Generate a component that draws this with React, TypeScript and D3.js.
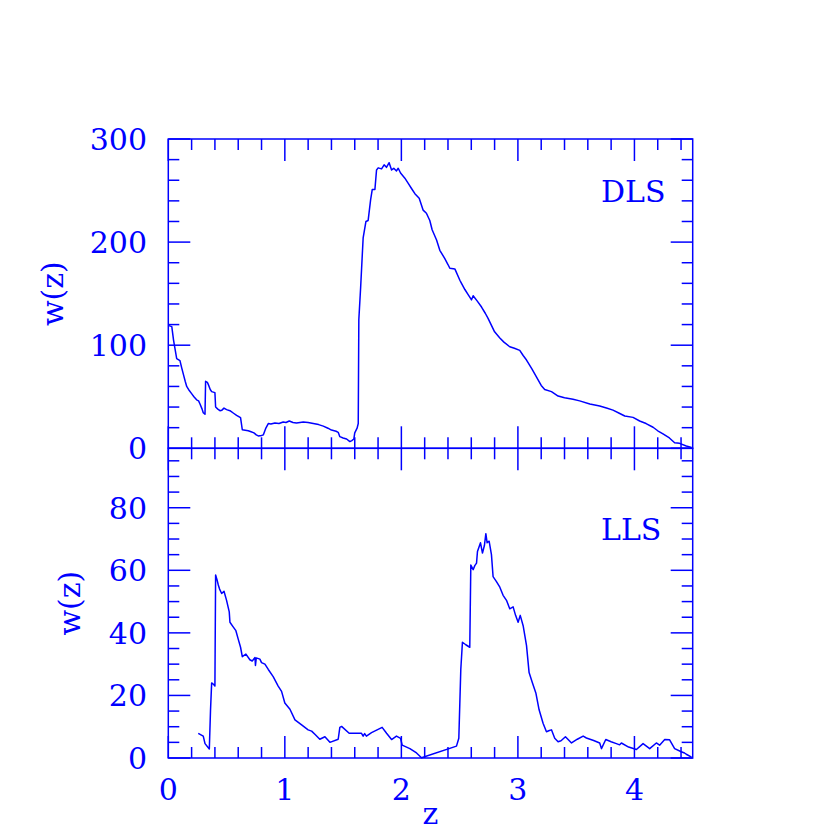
import React from 'react';
import * as d3 from 'd3';

const dlsZ = [0.005,0.03,0.045,0.057,0.072,0.1,0.115,0.129,0.145,0.158,0.18,0.2,0.22,0.243,0.26,0.272,0.29,0.30,0.315,0.32,0.335,0.343,0.36,0.372,0.4,0.406,0.425,0.443,0.46,0.478,0.5,0.529,0.56,0.586,0.62,0.635,0.66,0.686,0.71,0.735,0.755,0.772,0.8,0.815,0.835,0.858,0.88,0.915,0.95,0.986,1.01,1.038,1.07,1.1,1.13,1.158,1.2,1.244,1.29,1.33,1.37,1.4,1.44,1.458,1.472,1.5,1.53,1.558,1.575,1.592,1.6,1.62,1.63,1.635,1.65,1.672,1.696,1.715,1.736,1.75,1.773,1.787,1.801,1.83,1.852,1.872,1.895,1.916,1.935,1.958,1.973,1.993,2.03,2.059,2.087,2.116,2.153,2.187,2.215,2.244,2.264,2.302,2.33,2.373,2.401,2.416,2.459,2.502,2.516,2.545,2.573,2.602,2.616,2.65,2.688,2.72,2.744,2.8,2.845,2.88,2.93,2.97,3.016,3.045,3.074,3.12,3.16,3.2,3.23,3.288,3.345,3.4,3.473,3.53,3.617,3.66,3.702,3.76,3.816,3.87,3.917,3.988,4.045,4.1,4.16,4.2,4.245,4.3,4.345,4.387,4.445,4.49];
const dlsW = [119,118,105,97,87,85,78,72,65,60,56,53,50,47,46,43,38,34.5,33,65,64,62,57,55,54,40,38,36.5,37,39,37.5,36.5,34,32,29.7,18,17.5,17,16,15,13,12,12.5,13,19,24,23.5,24.5,24,25.5,25,26.5,25,24.5,25,25.5,25,24,23,21.5,19.5,17.7,16.5,15.5,11.3,10,9,6.5,7.5,9,15,19.5,24,125,155,204,220,221,241,251,251,270,272,271,275,272.5,277,270,271.6,269,271.6,267,262,257,252,247,242.5,231,228,221,212,202,192,184,178,174.6,174,163,160,154,149,144,148,143,137,131,126,113,107,103,98.5,97,95,90,85.6,77,69,61,57,55,50.7,49,47.5,46,43,42,41,39,37,34,31.3,30,26.5,24,20.4,17,14,10,5.4,4.8,2.2,0.8];

const llsZ = [0.257,0.30,0.315,0.352,0.362,0.372,0.39,0.4,0.406,0.418,0.429,0.44,0.458,0.478,0.5,0.523,0.529,0.555,0.58,0.60,0.62,0.635,0.666,0.70,0.72,0.744,0.748,0.755,0.786,0.80,0.829,0.858,0.9,0.943,0.972,1.0,1.044,1.087,1.144,1.2,1.23,1.26,1.30,1.344,1.387,1.458,1.472,1.487,1.552,1.658,1.672,1.685,1.7,1.744,1.835,1.873,1.916,1.958,1.993,2.007,2.073,2.13,2.173,2.473,2.493,2.51,2.524,2.553,2.587,2.596,2.616,2.63,2.645,2.653,2.679,2.696,2.713,2.725,2.736,2.753,2.773,2.787,2.816,2.845,2.873,2.902,2.93,2.959,2.98,3.002,3.02,3.045,3.074,3.096,3.125,3.154,3.182,3.216,3.245,3.27,3.288,3.316,3.345,3.37,3.408,3.46,3.51,3.56,3.588,3.65,3.702,3.717,3.754,3.8,3.845,3.873,3.888,3.95,4.017,4.074,4.131,4.188,4.216,4.26,4.302,4.345,4.402,4.43,4.445,4.49];
const llsW = [7.9,7,4.6,2.9,15,24,23.5,23,58.5,57,55.3,54,52.6,53.3,50.4,46.7,43.4,42,40.7,38,35.4,32.4,33.2,31.4,31,32.1,29.6,32,31.6,30.5,30,28.3,26,23,21.3,17.6,15.6,12.2,10.6,9,8.6,7.5,6,6.8,5,6,9.8,10.1,7.9,7.9,7,7.8,7,8.1,9.8,7.9,5.9,7,6.3,4.1,3,1.6,0.1,3.8,6.3,28.3,37,36.2,35.4,61.7,60.2,61.5,62.3,66,68.8,65.5,68,71.7,68.8,69.3,65,58,56.4,54.6,52,50.4,47.7,48.3,45.6,43.4,45.6,42.3,35.9,27.3,24,20.8,15.4,11.1,8.4,8.8,9,6.3,5.2,5.5,6.8,4.8,6,7,6.4,5.6,4.8,3,5.9,5.2,4.6,4.2,4.8,3.5,2.7,4.6,3,4.8,4.1,5.9,5.8,3,2,1.6,1.2,0.3];

const xTickLabels = [0, 1, 2, 3, 4];
const dlsTickLabels = [0, 100, 200, 300];
const llsTickLabels = [0, 20, 40, 60, 80];
const panelNames = ['DLS', 'LLS'];
const yTitle = 'w(z)';
const xTitle = 'z';

const BLUE = '#0000ff';
const FONT = '"DejaVu Serif", serif';

export default function App() {
  const L = 168.3, R = 692.7, T = 139, M = 448.3, B = 758;
  const x = d3.scaleLinear().domain([0, 4.5]).range([L, R]);
  const yTop = d3.scaleLinear().domain([0, 300]).range([M, T]);
  const yBot = d3.scaleLinear().domain([0, 99]).range([B, M]);
  const MAJ = 22, MIN = 11;

  const line = (ys: d3.ScaleLinear<number, number>) =>
    d3.line<[number, number]>().x(d => x(d[0])).y(d => ys(d[1]));
  const dlsPts = dlsZ.map((z, i) => [z, dlsW[i]] as [number, number]);
  const llsPts = llsZ.map((z, i) => [z, llsW[i]] as [number, number]);

  const xMinor = d3.range(0, 4.5 + 1e-9, 0.2).map(v => +v.toFixed(2));
  const isInt = (v: number) => Math.abs(v - Math.round(v)) < 1e-6;

  const ticks: JSX.Element[] = [];
  let k = 0;
  const panels = [
    { top: T, bot: M, ys: yTop, minorStep: 20, majorStep: 100, max: 300 },
    { top: M, bot: B, ys: yBot, minorStep: 5, majorStep: 20, max: 99 },
  ];
  panels.forEach(p => {
    xMinor.forEach(v => {
      const len = isInt(v) ? MAJ : MIN;
      const xx = x(v);
      ticks.push(<line key={k++} x1={xx} x2={xx} y1={p.top} y2={p.top + len} />);
      ticks.push(<line key={k++} x1={xx} x2={xx} y1={p.bot} y2={p.bot - len} />);
    });
    d3.range(0, p.max + 1e-9, p.minorStep).forEach(v => {
      const len = Math.abs(v % p.majorStep) < 1e-6 ? MAJ : MIN;
      const yy = p.ys(v);
      ticks.push(<line key={k++} x1={L} x2={L + len} y1={yy} y2={yy} />);
      ticks.push(<line key={k++} x1={R} x2={R - len} y1={yy} y2={yy} />);
    });
  });

  return (
    <div style={{ position: 'absolute', left: 0, top: 0 }}>
      <svg width={830} height={830} style={{ display: 'block', background: '#fff' }}>
        <g stroke={BLUE} strokeWidth={1.5} fill="none">
          <rect x={L} y={T} width={R - L} height={M - T} />
          <rect x={L} y={M} width={R - L} height={B - M} />
          {ticks}
        </g>
        <g fill="none" stroke={BLUE} strokeWidth={1.5} strokeLinejoin="round">
          <path d={line(yTop)(dlsPts) || ''} />
          <path d={line(yBot)(llsPts) || ''} />
        </g>
        <g fill={BLUE} fontFamily={FONT} fontSize={30}>
          {dlsTickLabels.map(v => (
            <text key={'d' + v} x={147} y={yTop(v) + 11} textAnchor="end">{v}</text>
          ))}
          {llsTickLabels.map(v => (
            <text key={'l' + v} x={147} y={yBot(v) + 11} textAnchor="end">{v}</text>
          ))}
          {xTickLabels.map(v => (
            <text key={'x' + v} x={x(v)} y={800} textAnchor="middle">{v}</text>
          ))}
          <text x={(L + R) / 2} y={824} textAnchor="middle">{xTitle}</text>
          <text transform={`translate(63,${(T + M) / 2}) rotate(-90)`} textAnchor="middle">{yTitle}</text>
          <text transform={`translate(80,${(M + B) / 2}) rotate(-90)`} textAnchor="middle">{yTitle}</text>
          <text x={601} y={202}>{panelNames[0]}</text>
          <text x={601} y={540}>{panelNames[1]}</text>
        </g>
      </svg>
    </div>
  );
}
